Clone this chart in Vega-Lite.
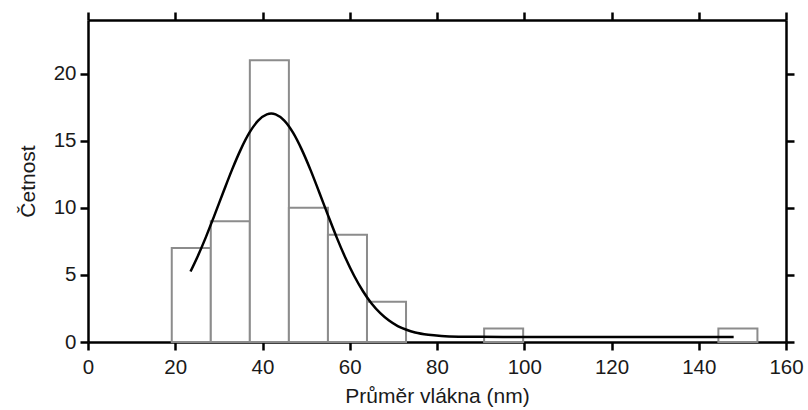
{
  "$schema": "https://vega.github.io/schema/vega-lite/v6.json",
  "width": 698,
  "height": 322,
  "autosize": {"type": "none"},
  "padding": {"left": 88, "top": 20, "right": 22, "bottom": 68},
  "config": {
    "view": {"stroke": null},
    "font": "Liberation Sans",
    "axis": {
      "grid": false,
      "labelFlush": false,
      "labelOverlap": false,
      "domainColor": "#000000",
      "domainWidth": 2.5,
      "tickColor": "#000000",
      "tickWidth": 2.5,
      "tickSize": 8,
      "labelFont": "Liberation Sans",
      "labelFontSize": 20.5,
      "labelColor": "#1a1a1a",
      "titleFont": "Liberation Sans",
      "titleFontSize": 21,
      "titleFontWeight": "normal",
      "titleColor": "#1a1a1a"
    }
  },
  "datasets": {
    "bars": [
      {"start": 19.2, "end": 28.15, "count": 7},
      {"start": 28.15, "end": 37.1, "count": 9},
      {"start": 37.1, "end": 46.05, "count": 21},
      {"start": 46.05, "end": 55.0, "count": 10},
      {"start": 55.0, "end": 63.95, "count": 8},
      {"start": 63.95, "end": 72.9, "count": 3},
      {"start": 90.8, "end": 99.75, "count": 1},
      {"start": 144.5, "end": 153.45, "count": 1}
    ],
    "curve": [
      {"d": 23.5, "f": 5.25},
      {"d": 25, "f": 6.28},
      {"d": 27, "f": 7.8},
      {"d": 29, "f": 9.46},
      {"d": 31, "f": 11.16},
      {"d": 33, "f": 12.83},
      {"d": 35, "f": 14.34},
      {"d": 37, "f": 15.6},
      {"d": 39, "f": 16.5},
      {"d": 41, "f": 16.97},
      {"d": 42, "f": 17.03},
      {"d": 43, "f": 16.97},
      {"d": 45, "f": 16.5},
      {"d": 47, "f": 15.6},
      {"d": 49, "f": 14.34},
      {"d": 51, "f": 12.83},
      {"d": 53, "f": 11.16},
      {"d": 55, "f": 9.46},
      {"d": 57, "f": 7.8},
      {"d": 59, "f": 6.28},
      {"d": 61, "f": 4.94},
      {"d": 63, "f": 3.8},
      {"d": 65, "f": 2.87},
      {"d": 67, "f": 2.15},
      {"d": 69, "f": 1.6},
      {"d": 71, "f": 1.19},
      {"d": 73, "f": 0.91},
      {"d": 75, "f": 0.71},
      {"d": 78, "f": 0.54},
      {"d": 81, "f": 0.45},
      {"d": 85, "f": 0.4},
      {"d": 90, "f": 0.385},
      {"d": 100, "f": 0.38},
      {"d": 148, "f": 0.38}
    ]
  },
  "layer": [
    {
      "data": {"name": "bars"},
      "mark": {"type": "bar", "fill": "#ffffff", "stroke": "#8c8c8c", "strokeWidth": 2},
      "encoding": {
        "x": {
          "field": "start", "type": "quantitative",
          "scale": {"domain": [0, 160], "nice": false, "zero": false},
          "axis": {"orient": "bottom", "values": [0, 20, 40, 60, 80, 100, 120, 140, 160], "title": "Průměr vlákna (nm)", "labelPadding": 7, "titlePadding": 8}
        },
        "x2": {"field": "end"},
        "y": {
          "field": "count", "type": "quantitative",
          "scale": {"domain": [0, 24], "nice": false},
          "axis": {"orient": "left", "values": [0, 5, 10, 15, 20], "title": "Četnost", "labelPadding": 4, "titlePadding": 15}
        },
        "y2": {"datum": 0}
      }
    },
    {
      "data": {"name": "curve"},
      "mark": {"type": "line", "color": "#000000", "strokeWidth": 2.5, "interpolate": "monotone"},
      "encoding": {
        "x": {
          "field": "d", "type": "quantitative",
          "scale": {"domain": [0, 160], "nice": false, "zero": false},
          "axis": {"orient": "top", "values": [0, 20, 40, 60, 80, 100, 120, 140, 160], "labels": false, "title": null}
        },
        "y": {
          "field": "f", "type": "quantitative",
          "scale": {"domain": [0, 24], "nice": false},
          "axis": {"orient": "right", "values": [0, 5, 10, 15, 20], "labels": false, "title": null}
        }
      }
    }
  ],
  "resolve": {"axis": {"x": "independent", "y": "independent"}}
}
